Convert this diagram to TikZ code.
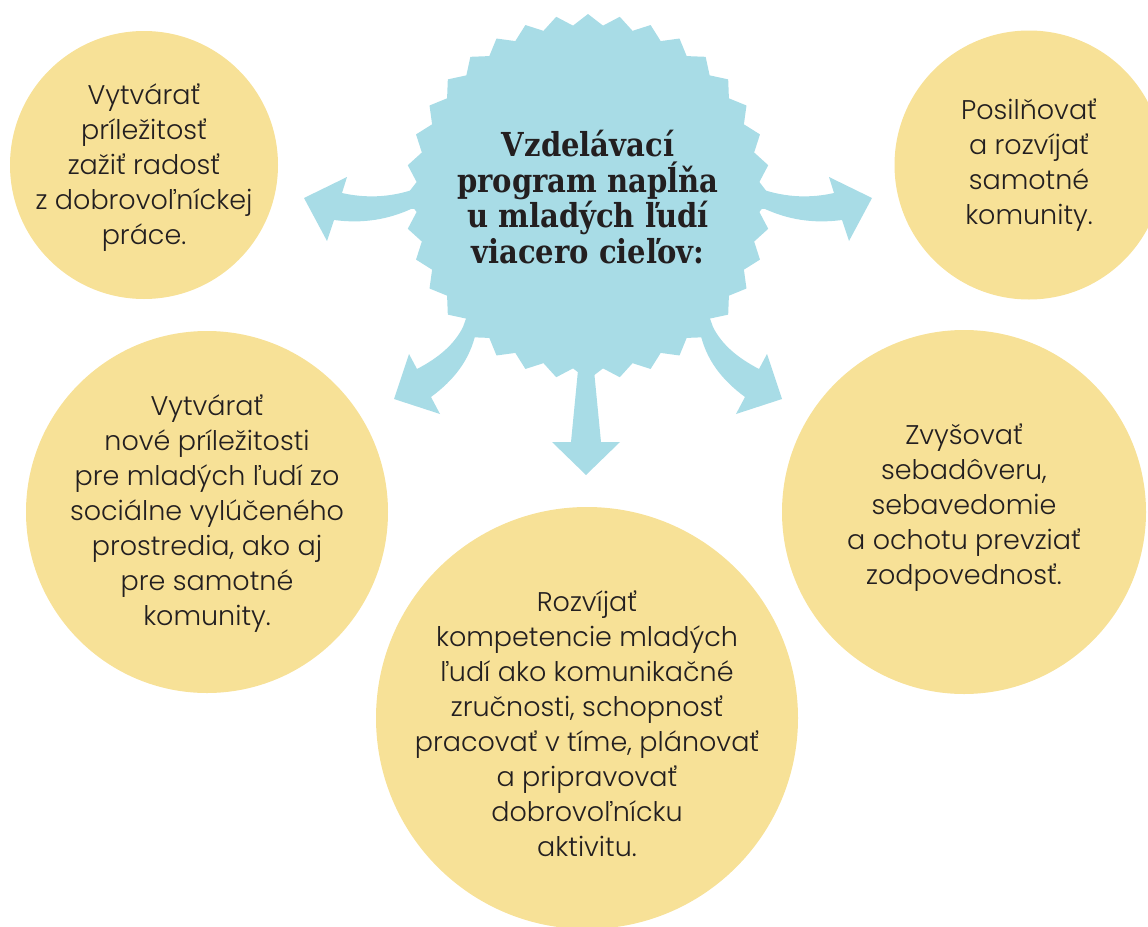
\documentclass[tikz,border=0pt]{standalone}
\usepackage{fontspec}
\IfFontExistsTF{Poppins Light}{\setmainfont{Poppins Light}}{\setmainfont{Poppins}}
\newfontfamily\headfont{DejaVu Serif}[FakeStretch=0.88]
\usetikzlibrary{shapes.geometric}
\definecolor{sun}{HTML}{F7E197}
\definecolor{sky}{HTML}{A8DCE6}
\definecolor{ink}{HTML}{231F20}

\tikzset{
	bubble/.style={circle,fill=sun,inner sep=0pt},
	bubbletext/.style={align=center,text=ink,font=\fontsize{27}{35}\selectfont},
}

\begin{document}
\begin{tikzpicture}[x=1pt,y=-1pt]
		\useasboundingbox (0,0) rectangle (1148,926);
		\clip (0,0) rectangle (1148,926);
		
		\node[bubble,minimum size=268pt] (joy) at (144,165) {};
		\node[bubble,minimum size=269pt] (community) at (1029,165) {};
		\node[bubble,minimum size=362pt] (youth) at (207,512) {};
		\node[bubble,minimum size=364pt] (confidence) at (964,512) {};
		\node[bubble,minimum size=422pt] (skills) at (587,718) {};
		
		\node[bubbletext] (joytext) at ([yshift=-3pt]joy) {Vytvárať\\príležitosť\\zažiť radosť\\z dobrovoľníckej\\práce.};
		\node[bubbletext] (communitytext) at (community) {Posilňovať\\a rozvíjať\\samotné\\komunity.};
		\node[bubbletext] (youthtext) at ([yshift=-2pt]youth) {Vytvárať\\nové príležitosti\\pre mladých ľudí zo\\sociálne vylúčeného\\prostredia, ako aj\\pre samotné\\komunity.};
		\node[bubbletext] (confidencetext) at ([yshift=4pt]confidence) {Zvyšovať\\sebadôveru,\\sebavedomie\\a ochotu prevziať\\zodpovednosť.};
		\node[bubbletext] (skillstext) at ([yshift=-6pt]skills) {Rozvíjať\\kompetencie mladých\\ľudí ako komunikačné\\zručnosti, schopnosť\\pracovať v tíme, plánovať\\a pripravovať\\dobrovoľnícku\\aktivitu.};
		
		% the jagged seal in the middle
		\node[star,star points=36,star point ratio=1.064,minimum size=366pt,inner sep=0pt,fill=sky] (goal) at (588,197) {};
		\node[align=center,text=ink,font=\headfont\bfseries\fontsize{33}{35.5}\selectfont] (goaltext) at (goal.center)
			{Vzdelávací\\program napĺňa\\u mladých ľudí\\viacero cieľov:};
		
		% fat arrows out of the seal, mirrored left/right
		\begin{scope}[shift={(goal.center)}]
			\foreach \s in {1,-1} {
				\fill[sky,xscale=\s] (160,-11) -- (173,-8) .. controls (199,1) and (224,1) .. (246,-4) -- (241,-20)
					-- (284,1) -- (261,44) -- (254,23) .. controls (224,27) and (199,22) .. (177,12) -- (164,11) -- cycle;
				\fill[sky,xscale=\s] (109,121) -- (120,116) -- (125,130) .. controls (134,148) and (150,161) .. (171,172)
					-- (179,157) -- (194,202) -- (148,217) -- (157,200) .. controls (134,183) and (118,163) .. (112,135) -- cycle;
			}
			\fill[sky] (-9,163) -- (-17,245) -- (-36,245) -- (-2,278) -- (32,245) -- (13,245) -- (5,163) -- cycle;
		\end{scope}
	\end{tikzpicture}
\end{document}
